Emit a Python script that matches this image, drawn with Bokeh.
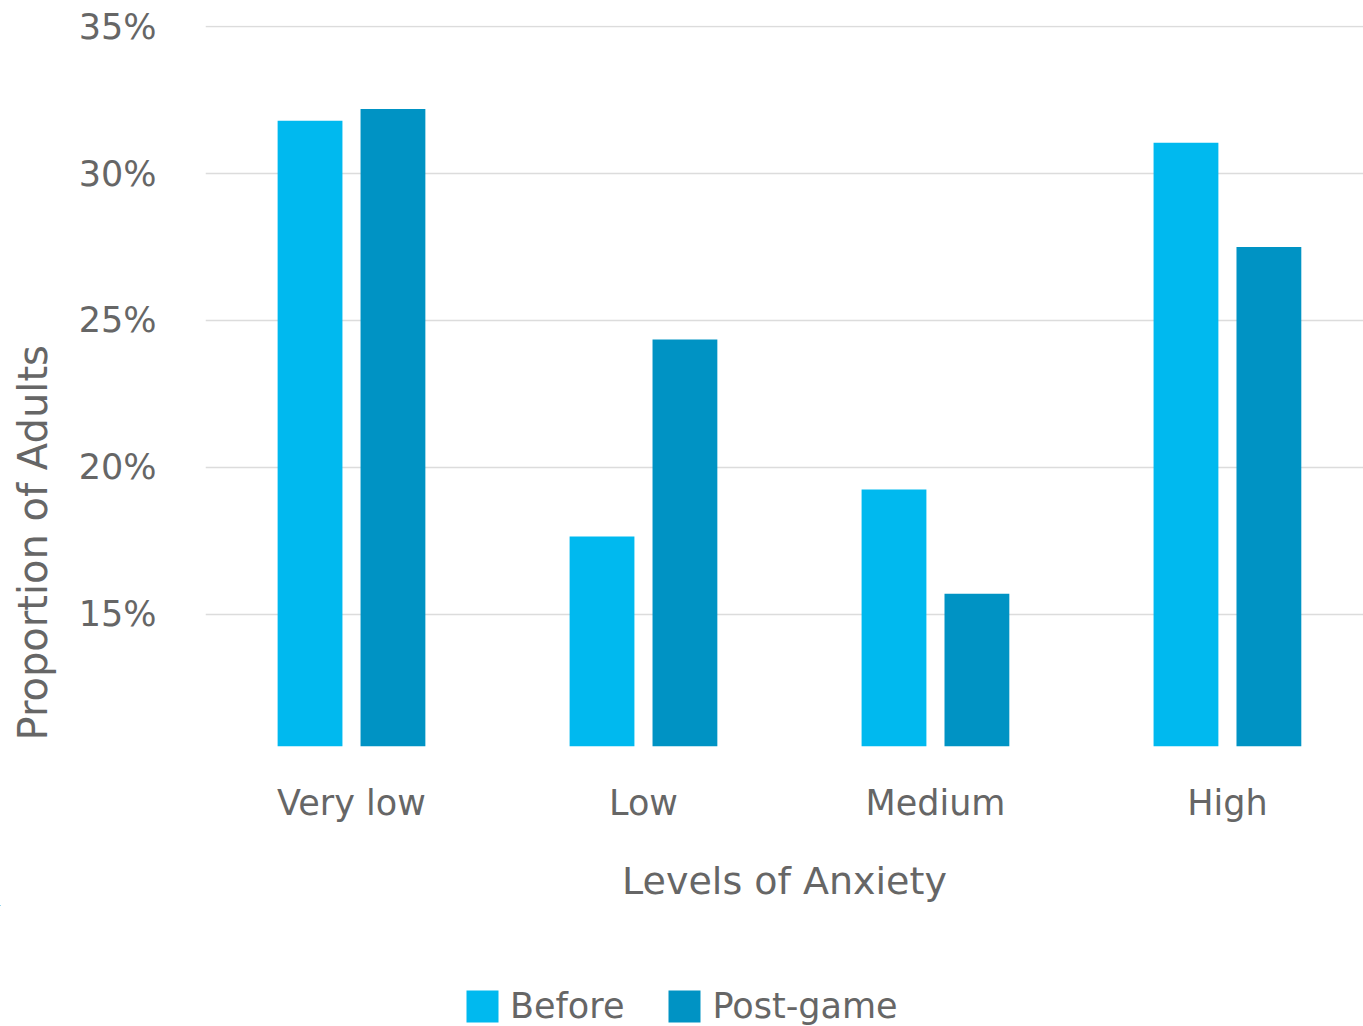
from bokeh.plotting import figure
from bokeh.layouts import column, row
from bokeh.models import (Range1d, FixedTicker, PrintfTickFormatter, Legend,
                          LegendItem, Label, ColumnDataSource)
from bokeh.embed import file_html
from bokeh.resources import INLINE

# Share of adults at each anxiety level, before and after playing
categories = ["Very low", "Low", "Medium", "High"]
series = ["Before", "Post-game"]
before = [31.8, 17.65, 19.25, 31.05]
post_game = [32.2, 24.35, 15.7, 27.5]
y_ticks = [15, 20, 25, 30, 35]

Y_MIN, Y_MAX = 10.5, 35.04
TEXT = "#666666"
FONT = "DejaVu Sans"
COLORS = ["#00b9ef", "#0093c4"]
WIDTH = 1363
MAIN_H = 905
LEGEND_H = 1026 - MAIN_H
TITLE_W = 75          # strip holding the vertical y title
FRAME_LEFT = 205

xs = list(range(len(categories)))
src = ColumnDataSource(dict(
    x_before=[x - 0.142 for x in xs],
    x_post=[x + 0.142 for x in xs],
    before=before,
    post=post_game,
))

p = figure(width=WIDTH - TITLE_W, height=MAIN_H, output_backend="svg",
           toolbar_location=None,
           x_range=Range1d(-0.5, 3.466), y_range=Range1d(Y_MIN, Y_MAX),
           min_border_left=FRAME_LEFT - TITLE_W, min_border_right=0,
           min_border_top=25, min_border_bottom=159)
p.outline_line_color = None
p.frame_align = False

p.vbar(x="x_before", top="before", bottom=Y_MIN, width=0.222,
       source=src, fill_color=COLORS[0], line_color=None)
p.vbar(x="x_post", top="post", bottom=Y_MIN, width=0.222,
       source=src, fill_color=COLORS[1], line_color=None)

# grid
p.xgrid.visible = False
p.ygrid.grid_line_color = "#dcdcdc"
p.ygrid.grid_line_width = 1.5

# y axis
ya = p.yaxis[0]
ya.ticker = FixedTicker(ticks=y_ticks)
ya.formatter = PrintfTickFormatter(format="%d%%")
ya.axis_line_color = None
ya.major_tick_line_color = None
ya.minor_tick_line_color = None
ya.major_label_standoff = 43
ya.major_label_text_font = FONT
ya.major_label_text_font_size = "35px"
ya.major_label_text_color = TEXT

# x axis
xa = p.xaxis[0]
xa.ticker = FixedTicker(ticks=xs)
xa.major_label_overrides = {i: c for i, c in zip(xs, categories)}
xa.axis_line_color = None
xa.major_tick_line_color = None
xa.minor_tick_line_color = None
xa.major_label_standoff = 30
xa.major_label_text_font = FONT
xa.major_label_text_font_size = "35px"
xa.major_label_text_color = TEXT
xa.axis_label = "Levels of Anxiety"
xa.axis_label_standoff = 33
xa.axis_label_text_font = FONT
xa.axis_label_text_font_size = "38px"
xa.axis_label_text_font_style = "normal"
xa.axis_label_text_color = TEXT

# narrow strip at the left with the y title, running upward from the plot bottom;
# its ranges are in pixels (y counted from the top)
ttl = figure(width=TITLE_W, height=MAIN_H, output_backend="svg",
             toolbar_location=None, x_axis_location=None, y_axis_location=None,
             x_range=Range1d(0, TITLE_W), y_range=Range1d(MAIN_H, 0),
             min_border=0)
ttl.frame_align = False
ttl.outline_line_color = None
ttl.grid.visible = False
ttl.add_layout(Label(x=32, y=740, text="Proportion of Adults", angle=90,
                     angle_units="deg", text_align="left",
                     text_baseline="alphabetic", text_font=FONT,
                     text_font_size="40px", text_color=TEXT))

# legend strip under the chart; its swatch renderers lie outside the visible ranges
leg = figure(width=WIDTH, height=LEGEND_H, output_backend="svg",
             toolbar_location=None, x_axis_location=None, y_axis_location=None,
             x_range=Range1d(100, 101), y_range=Range1d(-200, -100),
             min_border=0)
leg.frame_align = False
leg.outline_line_color = None
leg.grid.visible = False
swatches = [leg.vbar(x=xs, top=vals, bottom=0, width=0.2, fill_color=c,
                     line_color=None)
            for c, vals in zip(COLORS, [before, post_game])]
legend = Legend(items=[LegendItem(label=s, renderers=[r])
                       for s, r in zip(series, swatches)],
                orientation="horizontal", location=(462, 0),
                margin=0, padding=0,
                glyph_width=40, glyph_height=40, label_standoff=8, spacing=40,
                label_text_font=FONT, label_text_font_size="35px",
                label_text_color=TEXT, border_line_color=None,
                background_fill_alpha=0)
leg.add_layout(legend, "center")

layout = column(row(ttl, p, spacing=0), leg, spacing=0)
open("out.html", "w").write(file_html(layout, INLINE))
